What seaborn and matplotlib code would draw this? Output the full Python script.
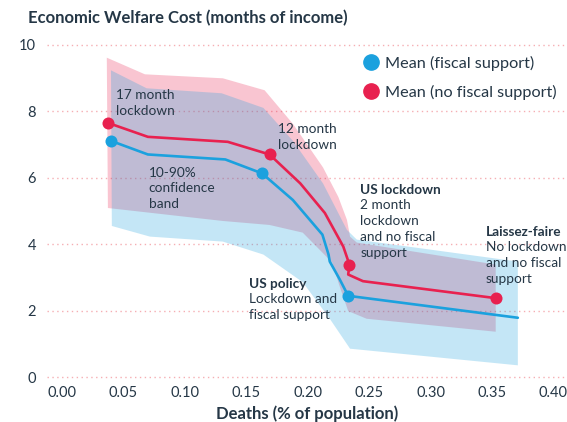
import matplotlib
matplotlib.use("Agg")
import matplotlib.pyplot as plt
import seaborn as sns
import numpy as np
from matplotlib.lines import Line2D

# mean lines
fiscal_x = [0.0399, 0.070, 0.133, 0.163, 0.188, 0.212, 0.217, 0.218, 0.226, 0.233, 0.371]
fiscal_y = [7.11, 6.70, 6.55, 6.13, 5.33, 4.29, 3.69, 3.48, 2.95, 2.45, 1.79]
fiscal_marks = [0, 3, 9]

nofiscal_x = [0.0375, 0.070, 0.135, 0.169, 0.194, 0.214, 0.229, 0.234, 0.233, 0.245, 0.353]
nofiscal_y = [7.65, 7.23, 7.08, 6.70, 5.83, 4.94, 3.93, 3.39, 3.09, 2.89, 2.38]
nofiscal_marks = [0, 3, 7, 10]

# 10-90% bands
fiscal_hi_x = [0.040, 0.069, 0.130, 0.164, 0.188, 0.2125, 0.232, 0.240, 0.371]
fiscal_hi_y = [9.23, 8.69, 8.54, 8.10, 7.11, 5.83, 4.43, 4.14, 3.48]
fiscal_lo_x = [0.0407, 0.0717, 0.131, 0.164, 0.196, 0.218, 0.2345, 0.371]
fiscal_lo_y = [4.55, 4.23, 4.08, 3.69, 2.86, 1.76, 0.86, 0.36]

nofiscal_hi_x = [0.0366, 0.0676, 0.131, 0.165, 0.188, 0.2125, 0.225, 0.232, 0.2345, 0.240, 0.353]
nofiscal_hi_y = [9.61, 9.11, 8.99, 8.63, 7.62, 6.31, 5.42, 4.73, 4.23, 4.05, 3.39]
nofiscal_lo_x = [0.0375, 0.131, 0.169, 0.196, 0.220, 0.226, 0.233, 0.248, 0.353]
nofiscal_lo_y = [5.09, 4.70, 4.58, 4.35, 3.45, 2.74, 1.99, 1.76, 1.37]

yticks = [0, 2, 4, 6, 8, 10]
xticks = [0.00, 0.05, 0.10, 0.15, 0.20, 0.25, 0.30, 0.35, 0.40]

BLUE = "#1ba1de"
RED = "#e8214f"
TEXT = "#253746"
GRID = "#f5aeb3"

sns.set_style("white")
plt.rcParams["font.family"] = ["Lato", "DejaVu Sans"]

fig = plt.figure(figsize=(5.67, 4.22), dpi=100)
ax = fig.add_axes([0.083, 0.102, 0.917, 0.796])

def band(ax, hx, hy, lx, ly, color):
    px = np.concatenate([hx, lx[::-1]])
    py = np.concatenate([hy, ly[::-1]])
    ax.fill(px, py, color=color, alpha=0.26, lw=0, zorder=1)

band(ax, nofiscal_hi_x, nofiscal_hi_y, nofiscal_lo_x, nofiscal_lo_y, RED)
band(ax, fiscal_hi_x, fiscal_hi_y, fiscal_lo_x, fiscal_lo_y, BLUE)

sns.lineplot(x=fiscal_x, y=fiscal_y, sort=False, estimator=None, color=BLUE, lw=1.9, ax=ax, zorder=3)
sns.lineplot(x=nofiscal_x, y=nofiscal_y, sort=False, estimator=None, color=RED, lw=1.9, ax=ax, zorder=3)
sns.scatterplot(x=[fiscal_x[i] for i in fiscal_marks], y=[fiscal_y[i] for i in fiscal_marks],
                color=BLUE, s=75, linewidth=0, ax=ax, zorder=4)
sns.scatterplot(x=[nofiscal_x[i] for i in nofiscal_marks], y=[nofiscal_y[i] for i in nofiscal_marks],
                color=RED, s=75, linewidth=0, ax=ax, zorder=4)

ax.set_xlim(-0.012, 0.411)
ax.set_ylim(-0.05, 10.05)
ax.set_xticks(xticks)
ax.set_xticklabels([f"{t:.2f}" for t in xticks])
ax.set_yticks(yticks)
ax.tick_params(axis="both", length=0, labelsize=10.5, labelcolor=TEXT)
ax.tick_params(axis="x", pad=5)
ax.tick_params(axis="y", pad=8)
for y in yticks:
    ax.axhline(y, color=GRID, lw=1, ls=(0, (1, 2.5)), zorder=0)
sns.despine(ax=ax, left=True, bottom=True)

ax.set_xlabel("Deaths (% of population)", fontsize=12, fontweight="bold", color=TEXT, labelpad=4)
fig.text(0.049, 0.957, "Economic Welfare Cost (months of income)", fontsize=12,
         fontweight="bold", color=TEXT, ha="left", va="center")

txt = dict(fontsize=9.8, color=TEXT, ha="left", va="center", linespacing=1.38, zorder=5)
ax.text(0.044, 8.24, "17 month\nlockdown", **txt)
ax.text(0.176, 7.23, "12 month\nlockdown", **txt)
ax.text(0.0708, 5.68, "10-90%\nconfidence\nband", **txt)
ax.text(0.2427, 5.63, "US lockdown", fontweight="bold", **txt)
ax.text(0.2427, 4.46, "2 month\nlockdown\nand no fiscal\nsupport", **txt)
ax.text(0.345, 4.375, "Laissez-faire", fontweight="bold", **txt)
ax.text(0.345, 3.44, "No lockdown\nand no fiscal\nsupport", **txt)
ax.text(0.152, 2.80, "US policy", fontweight="bold", **txt)
ax.text(0.152, 2.11, "Lockdown and\nfiscal support", **txt)

handles = [Line2D([], [], ls="", marker="o", ms=11, color=BLUE, label="Mean (fiscal support)"),
           Line2D([], [], ls="", marker="o", ms=11, color=RED, label="Mean (no fiscal support)")]
leg = ax.legend(handles=handles, loc="upper left", bbox_to_anchor=(0.604, 0.962), frameon=False,
                fontsize=11.7, handletextpad=0.28, labelspacing=0.85, borderaxespad=0, borderpad=0,
                handlelength=1.2)
for t in leg.get_texts():
    t.set_color(TEXT)

fig.savefig("out.png", dpi=100)
